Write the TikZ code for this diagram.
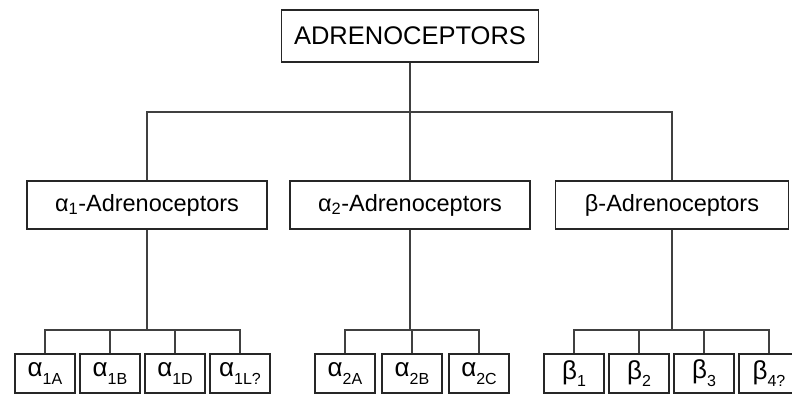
\documentclass[tikz,border=0pt]{standalone}
\usepackage{fontspec}
\setmainfont{Liberation Sans}
\newcommand{\lowtag}[1]{\raisebox{-0.3em}{\fontsize{16}{16}\selectfont #1}}
\tikzset{
	receptor/.style={draw=black!85, line width=1.1pt, fill=white, inner sep=0pt},
	topbox/.style={receptor, minimum width=257pt, minimum height=52pt, font=\fontsize{25.5}{30}\selectfont},
	classbox/.style={receptor, minimum height=48pt, font=\fontsize{23.5}{28}\selectfont},
	subbox/.style={receptor, minimum width=60pt, minimum height=39pt, font=\fontsize{26}{28}\selectfont},
	link/.style={draw=black!75, line width=1.2pt}
}
\begin{document}
\begin{tikzpicture}[x=1pt,y=-1pt]
	\useasboundingbox (0,0) rectangle (792,394);
	% Oberbegriff
	\node[topbox] (adr) at (410,36) {ADRENOCEPTORS};
	% Klassen
	\node[classbox, minimum width=240pt] (alphaone) at (147,205) {α\textsubscript{1}-Adrenoceptors};
	\node[classbox, minimum width=240pt] (alphatwo) at (410,205) {α\textsubscript{2}-Adrenoceptors};
	\node[classbox, minimum width=233pt] (beta) at (672,205) {β-Adrenoceptors};
	\coordinate (adrhub) at (410,112);
	\draw[link] (adr.south) -- (adrhub);
	\draw[link] (alphaone.north) |- (adrhub) -| (beta.north);
	\draw[link] (adrhub) -- (alphatwo.north);
	% Subtypen
	\coordinate (aonehub) at (147,330);
	\coordinate (atwohub) at (410,330);
	\coordinate (betahub) at (672,330);
	\draw[link] (alphaone.south) -- (aonehub);
	\draw[link] (alphatwo.south) -- (atwohub);
	\draw[link] (beta.south) -- (betahub);
	\foreach \x/\t [count=\i] in {45/1A,110/1B,175/1D,240/1L?} {
		\node[subbox] (aone\i) at (\x,373.5) {α\lowtag{\t}};
		\draw[link] (aonehub) -| (aone\i.north);
	}
	\foreach \x/\t [count=\i] in {345/2A,412/2B,479/2C} {
		\node[subbox] (atwo\i) at (\x,373.5) {α\lowtag{\t}};
		\draw[link] (atwohub) -| (atwo\i.north);
	}
	\foreach \x/\t [count=\i] in {574/1,639/2,704/3,769/4?} {
		\node[subbox] (beta\i) at (\x,373.5) {β\lowtag{\t}};
		\draw[link] (betahub) -| (beta\i.north);
	}
\end{tikzpicture}
\end{document}
